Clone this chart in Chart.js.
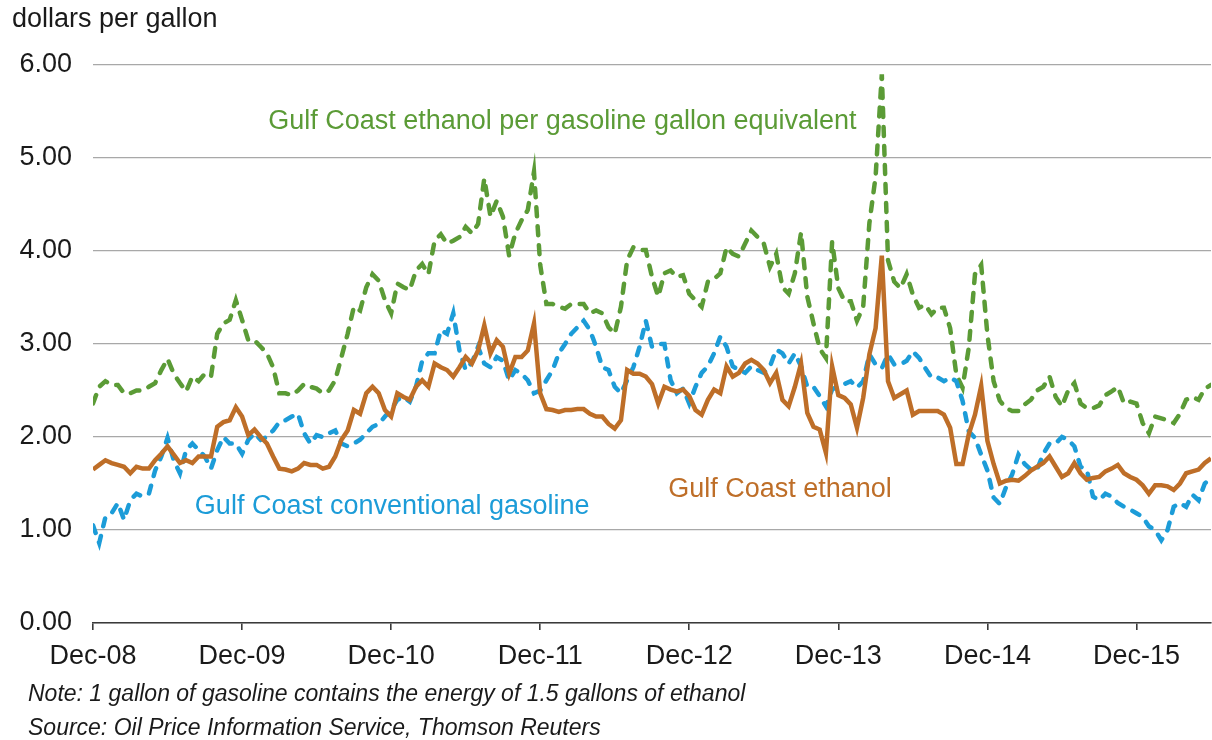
<!DOCTYPE html>
<html>
<head>
<meta charset="utf-8">
<script src="https://cdn.jsdelivr.net/npm/chart.js@4"></script>
<style>
  body { margin: 0; background: #fff; }
  #wrap { position: relative; width: 1212px; height: 740px; font-family: "Liberation Sans", Arial, sans-serif; color: #1a1a1a; }
  #grafico { position: absolute; left: 0; top: 0; }
  .txt { position: absolute; white-space: nowrap; }
  #unidad { left: 12px; top: 5px; font-size: 27px; line-height: 27px; }
  .nota { left: 28px; font-size: 23px; line-height: 23px; font-style: italic; }
</style>
</head>
<body>
<div id="wrap">
  <canvas id="grafico" width="1212" height="740"></canvas>
  <div class="txt" id="unidad">dollars per gallon</div>
  <div class="txt nota" style="top:682px">Note: 1 gallon of gasoline contains the energy of 1.5 gallons of ethanol</div>
  <div class="txt nota" style="top:716px">Source: Oil Price Information Service, Thomson Reuters</div>
</div>
<script>
// meses desde Dec-08, cada medio mes
const meses = Array.from({ length: 181 }, (_, i) => i / 2);
const etiquetasX = ['Dec-08', 'Dec-09', 'Dec-10', 'Dec-11', 'Dec-12', 'Dec-13', 'Dec-14', 'Dec-15'];

// Gulf Coast ethanol per gasoline gallon equivalent
const etanolGGE = [
  2.36, 2.54, 2.60, 2.56, 2.56, 2.47, 2.47, 2.50, 2.50, 2.54, 2.58, 2.72, 2.84, 2.68, 2.58, 2.49, 2.65, 2.60, 2.68, 2.65, 3.11, 3.22, 3.26, 3.47,
  3.26, 3.04, 3.04, 2.97, 2.90, 2.75, 2.47, 2.47, 2.45, 2.50, 2.57, 2.54, 2.52, 2.47, 2.50, 2.61, 2.86, 3.11, 3.40, 3.36, 3.61, 3.75, 3.68, 3.47,
  3.33, 3.65, 3.61, 3.58, 3.79, 3.86, 3.75, 4.11, 4.18, 4.08, 4.11, 4.15, 4.26, 4.19, 4.29, 4.78, 4.37, 4.54, 4.37, 3.95, 4.19, 4.33, 4.44, 4.85,
  3.85, 3.43, 3.43, 3.40, 3.38, 3.43, 3.43, 3.43, 3.33, 3.36, 3.33, 3.18, 3.11, 3.40, 3.90, 4.04, 4.01, 4.01, 3.72, 3.51, 3.76, 3.79, 3.72, 3.74,
  3.54, 3.47, 3.40, 3.67, 3.70, 3.76, 4.04, 3.97, 3.94, 4.08, 4.22, 4.15, 4.08, 3.83, 3.97, 3.61, 3.54, 3.76, 4.20, 3.51, 3.22, 2.95, 2.85, 4.10,
  3.60, 3.46, 3.46, 3.25, 3.40, 4.30, 4.80, 5.90, 3.90, 3.67, 3.60, 3.75, 3.53, 3.39, 3.42, 3.32, 3.39, 3.39, 3.17, 2.67, 2.53, 2.96, 3.75, 3.85,
  3.10, 2.60, 2.39, 2.31, 2.28, 2.28, 2.35, 2.40, 2.50, 2.54, 2.65, 2.43, 2.33, 2.50, 2.58, 2.36, 2.31, 2.31, 2.34, 2.45, 2.49, 2.54, 2.36, 2.38,
  2.36, 2.15, 2.04, 2.22, 2.20, 2.18, 2.15, 2.25, 2.40, 2.43, 2.40, 2.52, 2.56
];

// Gulf Coast ethanol
const etanol = [
  1.65, 1.70, 1.75, 1.72, 1.70, 1.68, 1.61, 1.68, 1.66, 1.66, 1.75, 1.82, 1.90, 1.81, 1.72, 1.75, 1.72, 1.79, 1.79, 1.79, 2.11, 2.16, 2.18, 2.32,
  2.22, 2.02, 2.08, 2.00, 1.93, 1.79, 1.66, 1.65, 1.63, 1.66, 1.72, 1.70, 1.70, 1.66, 1.68, 1.79, 1.97, 2.07, 2.29, 2.25, 2.47, 2.54, 2.47, 2.29,
  2.22, 2.47, 2.43, 2.40, 2.54, 2.61, 2.54, 2.79, 2.75, 2.72, 2.65, 2.75, 2.86, 2.79, 2.93, 3.20, 2.90, 3.04, 2.97, 2.68, 2.86, 2.86, 2.93, 3.22,
  2.47, 2.30, 2.29, 2.27, 2.29, 2.29, 2.30, 2.30, 2.25, 2.22, 2.22, 2.14, 2.09, 2.18, 2.72, 2.68, 2.68, 2.65, 2.57, 2.36, 2.54, 2.51, 2.49, 2.51,
  2.44, 2.29, 2.24, 2.40, 2.51, 2.47, 2.76, 2.65, 2.69, 2.79, 2.83, 2.79, 2.72, 2.58, 2.69, 2.40, 2.33, 2.54, 2.79, 2.26, 2.11, 2.08, 1.83, 2.76,
  2.45, 2.42, 2.35, 2.10, 2.42, 2.89, 3.17, 3.95, 2.60, 2.42, 2.46, 2.50, 2.24, 2.28, 2.28, 2.28, 2.28, 2.24, 2.10, 1.71, 1.71, 2.03, 2.24, 2.55,
  1.96, 1.71, 1.50, 1.53, 1.54, 1.53, 1.58, 1.64, 1.68, 1.72, 1.79, 1.68, 1.57, 1.61, 1.72, 1.61, 1.54, 1.56, 1.57, 1.63, 1.66, 1.70, 1.61, 1.57,
  1.54, 1.48, 1.39, 1.48, 1.48, 1.47, 1.43, 1.50, 1.61, 1.63, 1.65, 1.72, 1.77
];

// Gulf Coast conventional gasoline
const gasolina = [
  1.05, 0.86, 1.14, 1.18, 1.29, 1.11, 1.32, 1.39, 1.36, 1.39, 1.64, 1.79, 1.99, 1.75, 1.61, 1.86, 1.93, 1.86, 1.79, 1.66, 1.86, 2.00, 1.93, 1.93,
  1.82, 1.97, 2.04, 1.97, 2.00, 2.07, 2.16, 2.18, 2.22, 2.25, 2.04, 1.93, 2.02, 2.00, 2.04, 2.07, 1.93, 1.90, 1.93, 1.97, 2.04, 2.11, 2.14, 2.22,
  2.29, 2.40, 2.43, 2.38, 2.54, 2.82, 2.90, 2.90, 3.15, 3.11, 3.33, 2.93, 2.72, 2.80, 2.97, 2.79, 2.75, 2.86, 2.82, 2.61, 2.72, 2.68, 2.61, 2.47,
  2.50, 2.61, 2.72, 2.90, 3.00, 3.11, 3.18, 3.25, 3.15, 2.97, 2.75, 2.72, 2.54, 2.47, 2.61, 2.75, 2.97, 3.25, 2.97, 3.00, 3.00, 2.61, 2.47, 2.52,
  2.36, 2.54, 2.69, 2.76, 2.90, 3.08, 2.97, 2.76, 2.72, 2.69, 2.76, 2.72, 2.69, 2.76, 2.94, 2.90, 2.79, 2.90, 2.76, 2.54, 2.54, 2.44, 2.33, 2.51,
  2.55, 2.57, 2.60, 2.53, 2.60, 2.89, 2.78, 2.74, 2.89, 2.78, 2.78, 2.82, 2.92, 2.85, 2.74, 2.64, 2.64, 2.60, 2.64, 2.60, 2.39, 2.06, 1.99, 1.81,
  1.64, 1.35, 1.28, 1.46, 1.60, 1.81, 1.71, 1.65, 1.65, 1.82, 1.93, 1.93, 2.00, 1.97, 1.90, 1.68, 1.65, 1.36, 1.32, 1.39, 1.36, 1.29, 1.25, 1.22,
  1.18, 1.14, 1.04, 1.00, 0.89, 1.00, 1.25, 1.29, 1.25, 1.38, 1.32, 1.50, 1.56
];

const verde = '#5b9b36';
const azul = '#1c9cd8';
const naranja = '#be6e28';

const puntos = (valores) => valores.map((v, i) => ({ x: meses[i], y: v }));

// etiquetas de las series, en unidades de los ejes
const rotulos = [
  { texto: 'Gulf Coast ethanol per gasoline gallon equivalent', mes: 14.1, valor: 5.39, color: verde },
  { texto: 'Gulf Coast conventional gasoline', mes: 8.2, valor: 1.25, color: azul },
  { texto: 'Gulf Coast ethanol', mes: 46.3, valor: 1.43, color: naranja }
];

const pluginRotulos = {
  id: 'rotulos',
  afterDatasetsDraw(chart) {
    const { ctx, scales } = chart;
    ctx.save();
    ctx.font = '27px "Liberation Sans", Arial, sans-serif';
    ctx.textAlign = 'left';
    ctx.textBaseline = 'middle';
    rotulos.forEach(r => {
      ctx.fillStyle = r.color;
      ctx.fillText(r.texto, scales.x.getPixelForValue(r.mes), scales.y.getPixelForValue(r.valor));
    });
    ctx.restore();
  }
};

const fuente = { family: '"Liberation Sans", Arial, sans-serif', size: 27 };

new Chart(document.getElementById('grafico').getContext('2d'), {
  type: 'line',
  data: {
    datasets: [
      { label: 'Gulf Coast ethanol', data: puntos(etanol), borderColor: naranja, borderWidth: 4.5, order: 0 },
      { label: 'Gulf Coast conventional gasoline', data: puntos(gasolina), borderColor: azul, borderWidth: 4.5,
        borderDash: [8, 10], borderCapStyle: 'round', order: 1 },
      { label: 'Gulf Coast ethanol per gasoline gallon equivalent', data: puntos(etanolGGE), borderColor: verde, borderWidth: 4.5,
        borderDash: [9, 10], borderCapStyle: 'round', order: 2 }
    ]
  },
  options: {
    responsive: false,
    animation: false,
    elements: { point: { radius: 0 }, line: { tension: 0 } },
    layout: { padding: { top: 65, right: 1, left: 0, bottom: 0 } },
    plugins: { legend: { display: false }, tooltip: { enabled: false } },
    scales: {
      x: {
        type: 'linear',
        min: 0,
        max: 90,
        afterFit: s => { s.height = 117; },
        border: { color: '#3a3a3a', width: 1.6 },
        grid: { drawOnChartArea: false, drawTicks: true, tickLength: 7, color: '#3a3a3a', lineWidth: 1.6 },
        ticks: {
          stepSize: 12,
          includeBounds: false,
          autoSkip: false,
          maxRotation: 0,
          padding: 10,
          color: '#1a1a1a',
          font: fuente,
          callback: v => etiquetasX[v / 12]
        }
      },
      y: {
        min: 0,
        max: 6,
        afterFit: s => { s.width = 93; },
        border: { display: false },
        grid: { drawTicks: false, color: '#a8a8a8', lineWidth: 1.3 },
        ticks: {
          stepSize: 1,
          padding: 21,
          color: '#1a1a1a',
          font: fuente,
          callback: v => v.toFixed(2)
        }
      }
    }
  },
  plugins: [pluginRotulos]
});
</script>
</body>
</html>
